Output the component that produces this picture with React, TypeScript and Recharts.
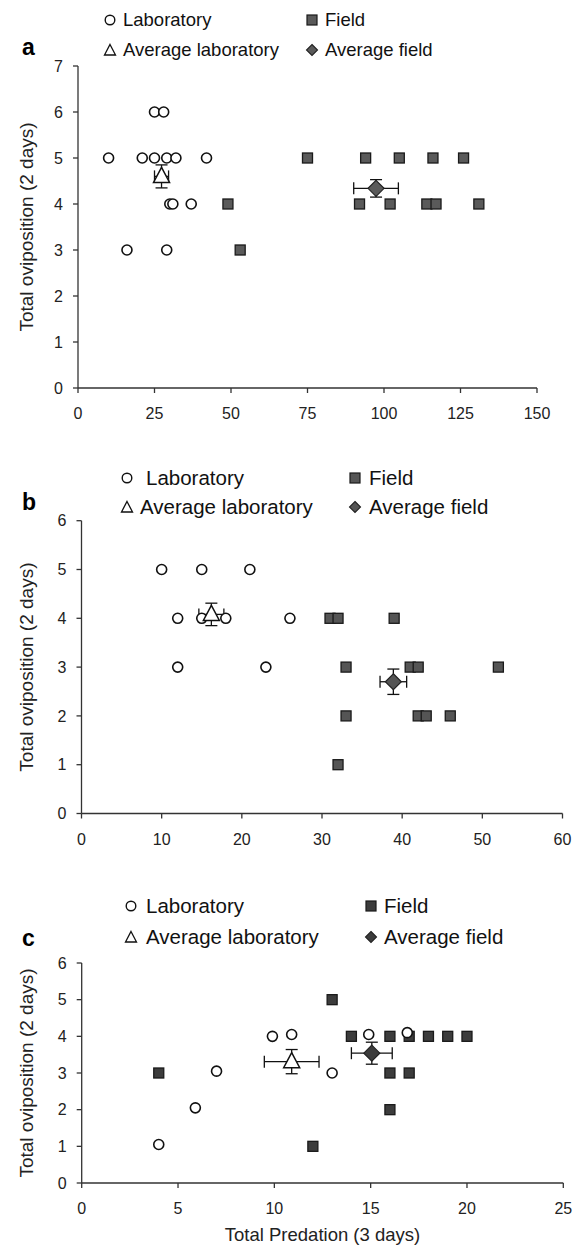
import { ScatterChart, Scatter, XAxis, YAxis, ErrorBar } from "recharts";

// panel a
const labA = [
  { x: 25, y: 6 }, { x: 28, y: 6 },
  { x: 10, y: 5 }, { x: 21, y: 5 }, { x: 25, y: 5 }, { x: 29, y: 5 }, { x: 32, y: 5 }, { x: 42, y: 5 },
  { x: 30, y: 4 }, { x: 31, y: 4 }, { x: 37, y: 4 },
  { x: 16, y: 3 }, { x: 29, y: 3 },
];
const fieldA = [
  { x: 75, y: 5 }, { x: 94, y: 5 }, { x: 105, y: 5 }, { x: 116, y: 5 }, { x: 126, y: 5 },
  { x: 49, y: 4 }, { x: 92, y: 4 }, { x: 102, y: 4 }, { x: 114, y: 4 }, { x: 117, y: 4 }, { x: 131, y: 4 },
  { x: 53, y: 3 },
];
const avgLabA = [{ x: 27.3, y: 4.6, ex: 2.3, ey: 0.25 }];
const avgFieldA = [{ x: 97.4, y: 4.34, ex: 7.3, ey: 0.19 }];
const xTicksA = [0, 25, 50, 75, 100, 125, 150];
const yTicksA = [0, 1, 2, 3, 4, 5, 6, 7];

// panel b
const labB = [
  { x: 10, y: 5 }, { x: 15, y: 5 }, { x: 21, y: 5 },
  { x: 12, y: 4 }, { x: 15, y: 4 }, { x: 18, y: 4 }, { x: 26, y: 4 },
  { x: 12, y: 3 }, { x: 23, y: 3 },
];
const fieldB = [
  { x: 31, y: 4 }, { x: 32, y: 4 }, { x: 39, y: 4 },
  { x: 33, y: 3 }, { x: 41, y: 3 }, { x: 42, y: 3 }, { x: 52, y: 3 },
  { x: 33, y: 2 }, { x: 42, y: 2 }, { x: 43, y: 2 }, { x: 46, y: 2 },
  { x: 32, y: 1 },
];
const avgLabB = [{ x: 16.2, y: 4.08, ex: 1.56, ey: 0.23 }];
const avgFieldB = [{ x: 38.9, y: 2.7, ex: 1.66, ey: 0.26 }];
const xTicksB = [0, 10, 20, 30, 40, 50, 60];
const yTicksBC = [0, 1, 2, 3, 4, 5, 6];

// panel c
const labC = [
  { x: 4, y: 1.05 }, { x: 5.9, y: 2.05 }, { x: 7, y: 3.05 }, { x: 9.9, y: 4 },
  { x: 10.9, y: 4.05 }, { x: 13, y: 3 }, { x: 14.9, y: 4.05 }, { x: 16.9, y: 4.1 },
];
const fieldC = [
  { x: 4, y: 3 }, { x: 12, y: 1 }, { x: 13, y: 5 },
  { x: 14, y: 4 }, { x: 16, y: 4 }, { x: 17, y: 4 }, { x: 18, y: 4 }, { x: 19, y: 4 }, { x: 20, y: 4 },
  { x: 16, y: 3 }, { x: 17, y: 3 }, { x: 16, y: 2 },
];
const avgLabC = [{ x: 10.9, y: 3.31, ex: 1.42, ey: 0.33 }];
const avgFieldC = [{ x: 15.06, y: 3.54, ex: 1.06, ey: 0.3 }];
const xTicksC = [0, 5, 10, 15, 20, 25];

const FONT = "'Liberation Sans', Arial, sans-serif";
const AXIS = "#333";
const W = 583;

const circleShape = (p: any) => (
  <circle cx={p.cx} cy={p.cy} r={5} fill="#fff" stroke="#111" strokeWidth={1.6} />
);
const squareShape = (fill: string) => (p: any) => (
  <rect x={p.cx - 5} y={p.cy - 5} width={10} height={10} fill={fill} stroke="#1a1a1a" strokeWidth={1.3} />
);
const triangleShape = (p: any) => (
  <polygon
    points={`${p.cx},${p.cy - 9} ${p.cx + 8},${p.cy + 6} ${p.cx - 8},${p.cy + 6}`}
    fill="#fff"
    stroke="#111"
    strokeWidth={1.5}
  />
);
const diamondShape = (fill: string) => (p: any) => (
  <polygon
    points={`${p.cx},${p.cy - 8} ${p.cx + 8},${p.cy} ${p.cx},${p.cy + 8} ${p.cx - 8},${p.cy}`}
    fill={fill}
    stroke="#222"
    strokeWidth={1.2}
  />
);

function Icon({ kind, fill }: { kind: string; fill: string }) {
  return (
    <svg width={14} height={14} style={{ position: "absolute", left: -7, top: -7 }}>
      {kind === "circle" && <circle cx={7} cy={7} r={4.8} fill="#fff" stroke="#111" strokeWidth={1.4} />}
      {kind === "square" && <rect x={2} y={2} width={10} height={10} fill={fill} stroke="#1a1a1a" strokeWidth={1.2} />}
      {kind === "triangle" && <polygon points="7,1.5 12.5,12 1.5,12" fill="#fff" stroke="#111" strokeWidth={1.3} />}
      {kind === "diamond" && <polygon points="7,1.5 12.5,7 7,12.5 1.5,7" fill={fill} stroke="#222" strokeWidth={1.1} />}
    </svg>
  );
}

function LegendItem({ x, tx, y, kind, label, fs, fill }: any) {
  return (
    <>
      <div style={{ position: "absolute", left: x, top: y }}>
        <Icon kind={kind} fill={fill} />
      </div>
      <div style={{ position: "absolute", left: tx, top: y - fs * 0.49, fontSize: fs, lineHeight: 1, whiteSpace: "nowrap", color: "#111" }}>
        {label}
      </div>
    </>
  );
}

function Panel({ top, height, margin, xTicks, yTicks, xMax, yMax, lab, field, avgLab, avgField, squareFill, xTitle, xAxisHeight, yLabelOffset }: any) {
  return (
    <div style={{ position: "absolute", left: 0, top }}>
      <ScatterChart width={W} height={height} margin={margin}>
        <XAxis
          type="number"
          dataKey="x"
          domain={[0, xMax]}
          ticks={xTicks}
          interval={0}
          height={xAxisHeight}
          tickSize={5}
          tickMargin={15}
          stroke={AXIS}
          strokeWidth={1.3}
          tick={{ fill: "#222", fontSize: 16, fontFamily: FONT }}
          label={xTitle ? { value: xTitle, position: "insideBottom", offset: 2, fill: "#222", fontSize: 18.5, fontFamily: FONT } : undefined}
        />
        <YAxis
          type="number"
          dataKey="y"
          domain={[0, yMax]}
          ticks={yTicks}
          interval={0}
          width={78}
          tickSize={5}
          tickMargin={10}
          stroke={AXIS}
          strokeWidth={1.3}
          tick={{ fill: "#222", fontSize: 16, fontFamily: FONT }}
          label={{
            value: "Total oviposition (2 days)",
            angle: -90,
            position: "insideLeft",
            offset: yLabelOffset,
            fill: "#222",
            fontSize: 19,
            fontFamily: FONT,
            style: { textAnchor: "middle" },
          }}
        />
        <Scatter data={field} shape={squareShape(squareFill)} isAnimationActive={false} />
        <Scatter data={lab} shape={circleShape} isAnimationActive={false} />
        <Scatter data={avgLab} shape={triangleShape} isAnimationActive={false}>
          <ErrorBar dataKey="ex" direction="x" width={6} stroke="#111" strokeWidth={1.3} />
          <ErrorBar dataKey="ey" direction="y" width={6} stroke="#111" strokeWidth={1.3} />
        </Scatter>
        <Scatter data={avgField} shape={diamondShape(squareFill)} isAnimationActive={false}>
          <ErrorBar dataKey="ex" direction="x" width={6} stroke="#111" strokeWidth={1.3} />
          <ErrorBar dataKey="ey" direction="y" width={6} stroke="#111" strokeWidth={1.3} />
        </Scatter>
      </ScatterChart>
    </div>
  );
}

export default function App() {
  const letter = (ch: string, x: number, y: number) => (
    <div style={{ position: "absolute", left: x, top: y, fontSize: 23, fontWeight: "bold", lineHeight: 1 }}>{ch}</div>
  );
  return (
    <div style={{ position: "absolute", left: 0, top: 0, width: W, height: 1248, background: "#fff", fontFamily: FONT, overflow: "hidden" }}>
      <Panel
        top={0}
        height={440}
        margin={{ top: 66, right: 46, bottom: 22, left: 0 }}
        xTicks={xTicksA}
        yTicks={yTicksA}
        xMax={150}
        yMax={7}
        lab={labA}
        field={fieldA}
        avgLab={avgLabA}
        avgField={avgFieldA}
        squareFill="#5a5a5a"
        xAxisHeight={30}
        yLabelOffset={26}
      />
      <Panel
        top={440}
        height={420}
        margin={{ top: 80.7, right: 20.5, bottom: 16.5, left: 3.5 }}
        xTicks={xTicksB}
        yTicks={yTicksBC}
        xMax={60}
        yMax={6}
        lab={labB}
        field={fieldB}
        avgLab={avgLabB}
        avgField={avgFieldB}
        squareFill="#555"
        xAxisHeight={30}
        yLabelOffset={22.5}
      />
      <Panel
        top={860}
        height={388}
        margin={{ top: 103, right: 19.7, bottom: 5, left: 3.7 }}
        xTicks={xTicksC}
        yTicks={yTicksBC}
        xMax={25}
        yMax={6}
        lab={labC}
        field={fieldC}
        avgLab={avgLabC}
        avgField={avgFieldC}
        squareFill="#3c3c3c"
        xTitle="Total Predation (3 days)"
        xAxisHeight={60}
        yLabelOffset={22.3}
      />

      {letter("a", 22, 36)}
      <LegendItem x={110} tx={123} y={20} kind="circle" label="Laboratory" fs={18.5} />
      <LegendItem x={110} tx={123} y={50} kind="triangle" label="Average laboratory" fs={18.5} />
      <LegendItem x={312} tx={325} y={20} kind="square" fill="#5a5a5a" label="Field" fs={18.5} />
      <LegendItem x={312} tx={325} y={50} kind="diamond" fill="#5a5a5a" label="Average field" fs={18.5} />

      {letter("b", 22, 491)}
      <LegendItem x={127} tx={146} y={478} kind="circle" label="Laboratory" fs={20.5} />
      <LegendItem x={127} tx={140} y={507} kind="triangle" label="Average laboratory" fs={20.5} />
      <LegendItem x={355} tx={369} y={478} kind="square" fill="#555" label="Field" fs={20.5} />
      <LegendItem x={355} tx={369} y={507} kind="diamond" fill="#555" label="Average field" fs={20.5} />

      {letter("c", 22, 927)}
      <LegendItem x={131} tx={146} y={906} kind="circle" label="Laboratory" fs={20.5} />
      <LegendItem x={131} tx={146} y={937} kind="triangle" label="Average laboratory" fs={20.5} />
      <LegendItem x={371} tx={384} y={906} kind="square" fill="#3c3c3c" label="Field" fs={20.5} />
      <LegendItem x={371} tx={384} y={937} kind="diamond" fill="#3c3c3c" label="Average field" fs={20.5} />
    </div>
  );
}
